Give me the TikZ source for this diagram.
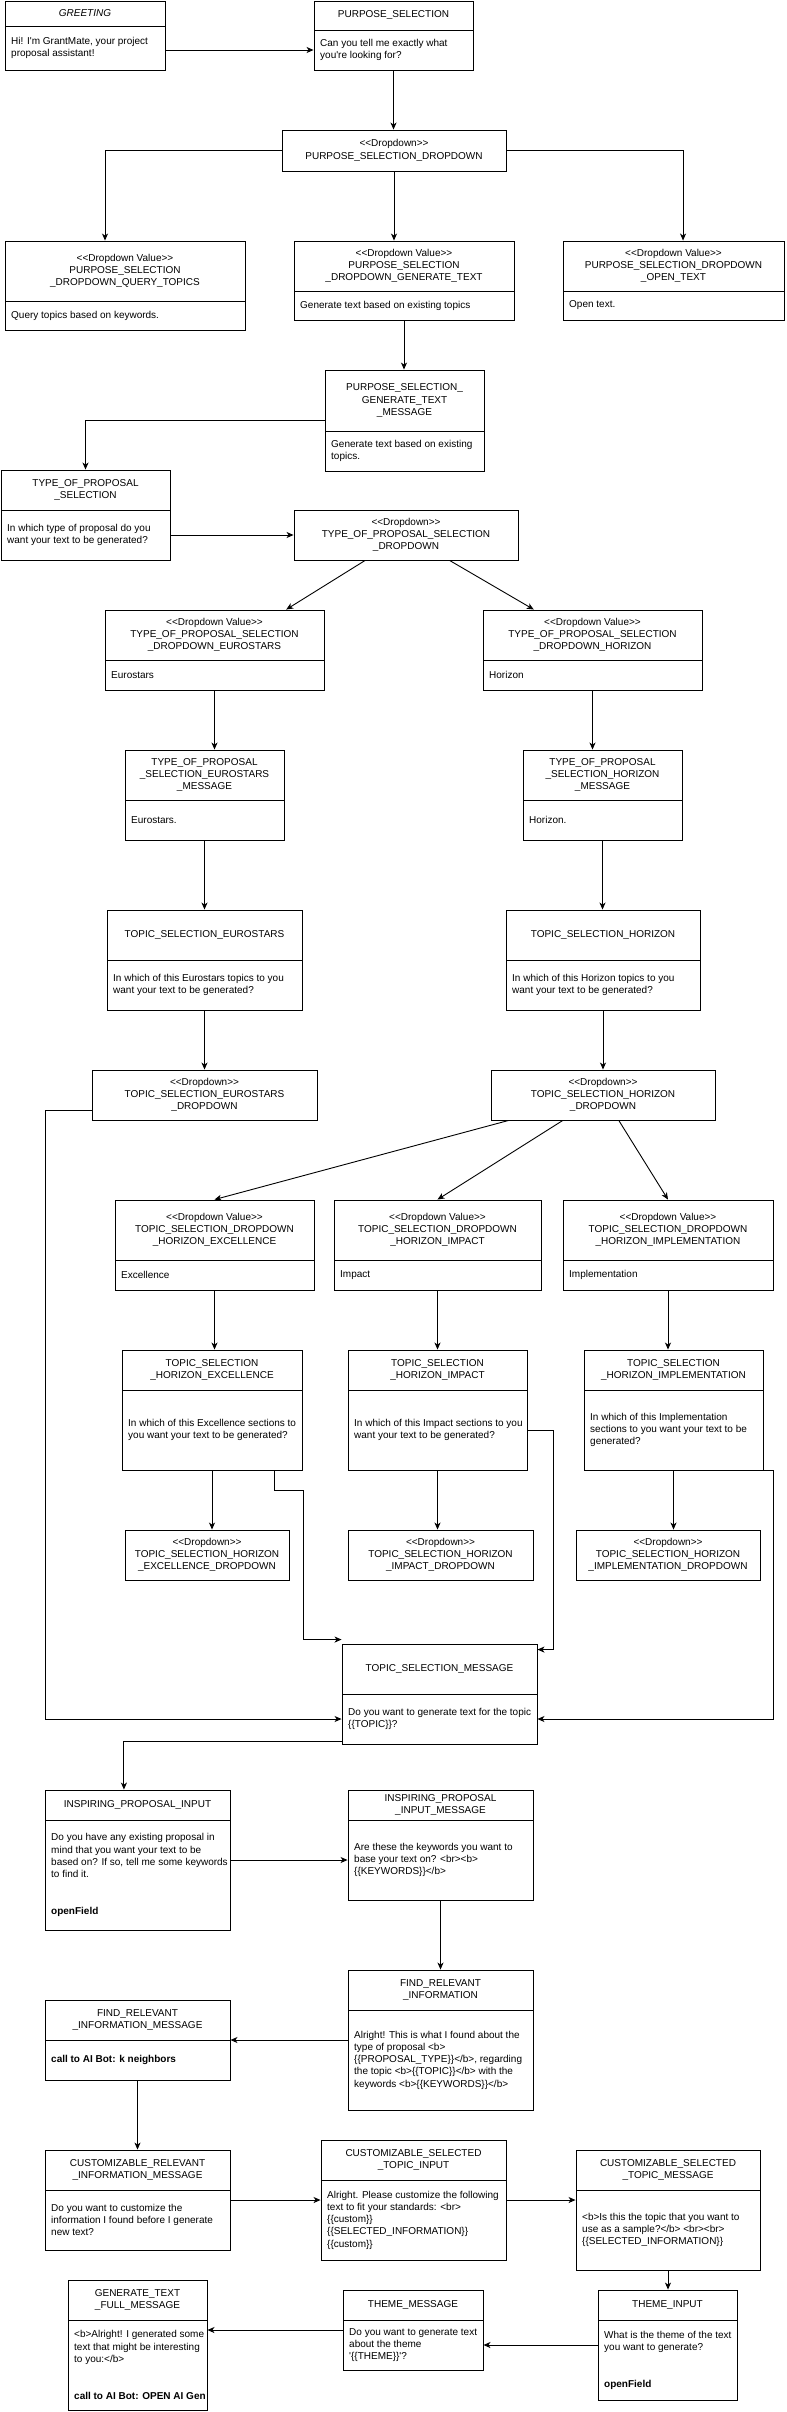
\documentclass[tikz,border=0pt]{standalone}
\usepackage{fontspec}
\newfontfamily\dfont{Liberation Sans}
\usetikzlibrary{arrows.meta,calc}
\tikzset{
  boxframe/.style={draw, line width=0.9pt, inner sep=0pt},
  divline/.style={line width=0.9pt},
  hdr/.style={inner sep=0pt, align=center, font=\dfont\fontsize{10}{12.3}\selectfont},
  bdy/.style={inner sep=0pt, align=left, anchor=west, font=\dfont\fontsize{10}{12.3}\selectfont},
  ddtext/.style={draw, line width=0.9pt, inner sep=0pt, align=center, font=\dfont\fontsize{10}{12.3}\selectfont},
  arr/.style={line width=0.9pt, -{Stealth[length=7pt,width=6pt,inset=2pt]}},
}
% name, x, ytop, width, header height, total height, header, body
\newcommand\umlbox[8]{%
  \node[boxframe, minimum width=#4pt, minimum height=#6pt] (#1) at ({#2+#4/2},{#3+#6/2}) {};
  \draw[divline] ({#2},{#3+#5}) -- ({#2+#4},{#3+#5});
  \node[hdr] (#1h) at ({#2+#4/2},{#3+#5/2}) {#7};
  \node[bdy] (#1b) at ({#2+6},{#3+#5/2+#6/2}) {#8};
}
% name, x, ytop, width, height, text
\newcommand\ddbox[6]{%
  \node[ddtext, minimum width=#4pt, minimum height=#5pt] (#1) at ({#2+#4/2},{#3+#5/2}) {#6};
}
\begin{document}
\begin{tikzpicture}[x=1pt, y=-1pt]
\useasboundingbox (0,0) rectangle (787,2412);

\umlbox{greet}{5}{1}{160}{25}{69}{\itshape GREETING}{Hi! I'm GrantMate, your project\\proposal assistant!}
\umlbox{ps}{314}{1}{159}{29}{69}{PURPOSE\_SELECTION}{Can you tell me exactly what\\you're looking for?}
\ddbox{psdd}{282}{130}{224}{41}{<<Dropdown>>\\PURPOSE\_SELECTION\_DROPDOWN}
\umlbox{psq}{5}{241}{240}{60}{89}{<<Dropdown Value>>\\PURPOSE\_SELECTION\\\_DROPDOWN\_QUERY\_TOPICS}{Query topics based on keywords.}
\umlbox{psg}{294}{241}{220}{50}{79}{<<Dropdown Value>>\\PURPOSE\_SELECTION\\\_DROPDOWN\_GENERATE\_TEXT}{Generate text based on existing topics}
\umlbox{pso}{563}{241}{221}{50}{79}{<<Dropdown Value>>\\PURPOSE\_SELECTION\_DROPDOWN\\\_OPEN\_TEXT}{Open text.}
\umlbox{psgm}{325}{370}{159}{61}{101}{PURPOSE\_SELECTION\_\\GENERATE\_TEXT\\\_MESSAGE}{Generate text based on existing\\topics.}
\umlbox{top}{1}{470}{169}{40}{90}{TYPE\_OF\_PROPOSAL\\\_SELECTION}{In which type of proposal do you\\want your text to be generated?}
\ddbox{topdd}{294}{510}{224}{50}{<<Dropdown>>\\TYPE\_OF\_PROPOSAL\_SELECTION\\\_DROPDOWN}
\umlbox{tope}{105}{610}{219}{50}{80}{<<Dropdown Value>>\\TYPE\_OF\_PROPOSAL\_SELECTION\\\_DROPDOWN\_EUROSTARS}{Eurostars}
\umlbox{toph}{483}{610}{219}{50}{80}{<<Dropdown Value>>\\TYPE\_OF\_PROPOSAL\_SELECTION\\\_DROPDOWN\_HORIZON}{Horizon}
\umlbox{topem}{125}{750}{159}{50}{90}{TYPE\_OF\_PROPOSAL\\\_SELECTION\_EUROSTARS\\\_MESSAGE}{Eurostars.}
\umlbox{tophm}{523}{750}{159}{50}{90}{TYPE\_OF\_PROPOSAL\\\_SELECTION\_HORIZON\\\_MESSAGE}{Horizon.}
\umlbox{tse}{107}{910}{195}{50}{100}{TOPIC\_SELECTION\_EUROSTARS}{In which of this Eurostars topics to you\\want your text to be generated?}
\umlbox{tsh}{506}{910}{194}{50}{100}{TOPIC\_SELECTION\_HORIZON}{In which of this Horizon topics to you\\want your text to be generated?}
\ddbox{tsedd}{92}{1070}{225}{50}{<<Dropdown>>\\TOPIC\_SELECTION\_EUROSTARS\\\_DROPDOWN}
\ddbox{tshdd}{491}{1070}{224}{50}{<<Dropdown>>\\TOPIC\_SELECTION\_HORIZON\\\_DROPDOWN}
\umlbox{tsde}{115}{1200}{199}{60}{90}{<<Dropdown Value>>\\TOPIC\_SELECTION\_DROPDOWN\\\_HORIZON\_EXCELLENCE}{Excellence}
\umlbox{tsdi}{334}{1200}{207}{60}{90}{<<Dropdown Value>>\\TOPIC\_SELECTION\_DROPDOWN\\\_HORIZON\_IMPACT}{Impact}
\umlbox{tsdm}{563}{1200}{210}{60}{90}{<<Dropdown Value>>\\TOPIC\_SELECTION\_DROPDOWN\\\_HORIZON\_IMPLEMENTATION}{Implementation}
\umlbox{tshe}{122}{1350}{180}{40}{120}{TOPIC\_SELECTION\\\_HORIZON\_EXCELLENCE}{In which of this Excellence sections to\\you want your text to be generated?}
\umlbox{tshi}{348}{1350}{179}{40}{120}{TOPIC\_SELECTION\\\_HORIZON\_IMPACT}{In which of this Impact sections to you\\want your text to be generated?}
\umlbox{tshm}{584}{1350}{179}{40}{120}{TOPIC\_SELECTION\\\_HORIZON\_IMPLEMENTATION}{In which of this Implementation\\sections to you want your text to be\\generated?}
\ddbox{tshedd}{125}{1530}{164}{50}{<<Dropdown>>\\TOPIC\_SELECTION\_HORIZON\\\_EXCELLENCE\_DROPDOWN}
\ddbox{tshidd}{348}{1530}{185}{50}{<<Dropdown>>\\TOPIC\_SELECTION\_HORIZON\\\_IMPACT\_DROPDOWN}
\ddbox{tshmdd}{576}{1530}{184}{50}{<<Dropdown>>\\TOPIC\_SELECTION\_HORIZON\\\_IMPLEMENTATION\_DROPDOWN}
\umlbox{tsm}{342}{1644}{195}{50}{100}{TOPIC\_SELECTION\_MESSAGE}{Do you want to generate text for the topic\\\{\{TOPIC\}\}?}
\umlbox{ipi}{45}{1790}{185}{30}{140}{INSPIRING\_PROPOSAL\_INPUT}{Do you have any existing proposal in\\mind that you want your text to be\\based on? If so, tell me some keywords\\to find it.\\\strut\\\strut\\\textbf{openField}}
\umlbox{ipim}{348}{1790}{185}{30}{110}{INSPIRING\_PROPOSAL\\\_INPUT\_MESSAGE}{Are these the keywords you want to\\base your text on? <br><b>\\\{\{KEYWORDS\}\}</b>}
\umlbox{fri}{348}{1970}{185}{40}{140}{FIND\_RELEVANT\\\_INFORMATION}{Alright! This is what I found about the\\type of proposal <b>\\\{\{PROPOSAL\_TYPE\}\}</b>, regarding\\the topic <b>\{\{TOPIC\}\}</b> with the\\keywords <b>\{\{KEYWORDS\}\}</b>}
\umlbox{frim}{45}{2000}{185}{40}{80}{FIND\_RELEVANT\\\_INFORMATION\_MESSAGE}{\textbf{call to AI Bot: k neighbors}}
\umlbox{crim}{45}{2150}{185}{40}{100}{CUSTOMIZABLE\_RELEVANT\\\_INFORMATION\_MESSAGE}{Do you want to customize the\\information I found before I generate\\new text?}
\umlbox{csti}{321}{2140}{185}{40}{120}{CUSTOMIZABLE\_SELECTED\\\_TOPIC\_INPUT}{Alright. Please customize the following\\text to fit your standards: <br>\\\{\{custom\}\}\\\{\{SELECTED\_INFORMATION\}\}\\\{\{custom\}\}}
\umlbox{cstm}{576}{2150}{184}{40}{120}{CUSTOMIZABLE\_SELECTED\\\_TOPIC\_MESSAGE}{<b>Is this the topic that you want to\\use as a sample?</b> <br><br>\\\{\{SELECTED\_INFORMATION\}\}}
\umlbox{ti}{598}{2290}{139}{30}{110}{THEME\_INPUT}{What is the theme of the text\\you want to generate?\\\strut\\\strut\\\textbf{openField}}
\umlbox{tm}{343}{2290}{140}{30}{80}{THEME\_MESSAGE}{Do you want to generate text\\about the theme\\'\{\{THEME\}\}'?}
\umlbox{gtfm}{68}{2280}{139}{40}{130}{GENERATE\_TEXT\\\_FULL\_MESSAGE}{<b>Alright! I generated some\\text that might be interesting\\to you:</b>\\\strut\\\strut\\\textbf{call to AI Bot: OPEN AI Gen}}

% connectors
\draw[arr] (greet.east |- psb) -- (ps.west |- psb);
\draw[arr] (ps.south) -- (ps.south |- psdd.north);
\draw[arr] (psdd.west) -| ($(psq.north west)!0.417!(psq.north east)$);
\draw[arr] (psdd.south) -- (psdd.south |- psg.north);
\draw[arr] (psdd.east) -| ($(pso.north west)!0.543!(pso.north east)$);
\draw[arr] (psg.south) -- (psg.south |- psgm.north);
\draw[arr] (psgm.west) -| (top.north);
\draw[arr] (top.east |- topdd) -- (topdd.west);
\draw[arr] (topdd) -- ($(tope.north west)!0.826!(tope.north east)$);
\draw[arr] (topdd) -- ($(toph.north west)!0.233!(toph.north east)$);
\draw[arr] (tope.south) -- (tope.south |- topem.north);
\draw[arr] (toph.south) -- (toph.south |- tophm.north);
\draw[arr] (topem.south) -- (topem.south |- tse.north);
\draw[arr] (tophm.south) -- (tophm.south |- tsh.north);
\draw[arr] (tse.south) -- (tse.south |- tsedd.north);
\draw[arr] (tsh.south) -- (tsh.south |- tshdd.north);
\draw[arr] (tshdd) -- (tsde.north);
\draw[arr] (tshdd) -- (tsdi.north);
\draw[arr] (tshdd) -- (tsdm.north);
\draw[arr] (tsde.south) -- (tsde.south |- tshe.north);
\draw[arr] (tsdi.south) -- (tsdi.south |- tshi.north);
\draw[arr] (tsdm.south) -- (tsdm.south |- tshm.north);
\draw[arr] (tshe.south) -- (tshe.south |- tshedd.north);
\draw[arr] (tshi.south) -- (tshi.south |- tshidd.north);
\draw[arr] (tshm.south) -- (tshm.south |- tshmdd.north);
\draw[arr] ($(tshe.south west)!0.844!(tshe.south east)$) -- ++(0,20) -| ($(tsm.north west)+(-38,-4)$) -- ($(tsm.north west)+(0,-4)$);
\draw[arr] (tshi.east |- tshib) -- ++(26,0) |- ($(tsm.north east)+(0,6)$);
\draw[arr] (tshm.south east) -- ++(10,0) |- (tsm.east |- tsmb);
\draw[arr] ($(tsedd.south west)+(0,-10)$) -- ++(-46,0) |- (tsm.west |- tsmb);
\draw[arr] ($(tsm.south west)+(0,-3)$) -| ($(ipi.north west)!0.427!(ipi.north east)$);
\draw[arr] (ipi.east |- ipimb) -- (ipim.west |- ipimb);
\draw[arr] (ipim.south) -- (ipim.south |- fri.north);
\draw[arr] (fri.west) -- (fri.west -| frim.east);
\draw[arr] (frim.south) -- (frim.south |- crim.north);
\draw[arr] (crim.east) -- (crim.east -| csti.west);
\draw[arr] (csti.east) -- (csti.east -| cstm.west);
\draw[arr] (cstm.south) -- (cstm.south |- ti.north);
\draw[arr] (ti.west) -- (ti.west -| tm.east);
\draw[arr] (tm.west) -- (tm.west -| gtfm.east);
\end{tikzpicture}
\end{document}
